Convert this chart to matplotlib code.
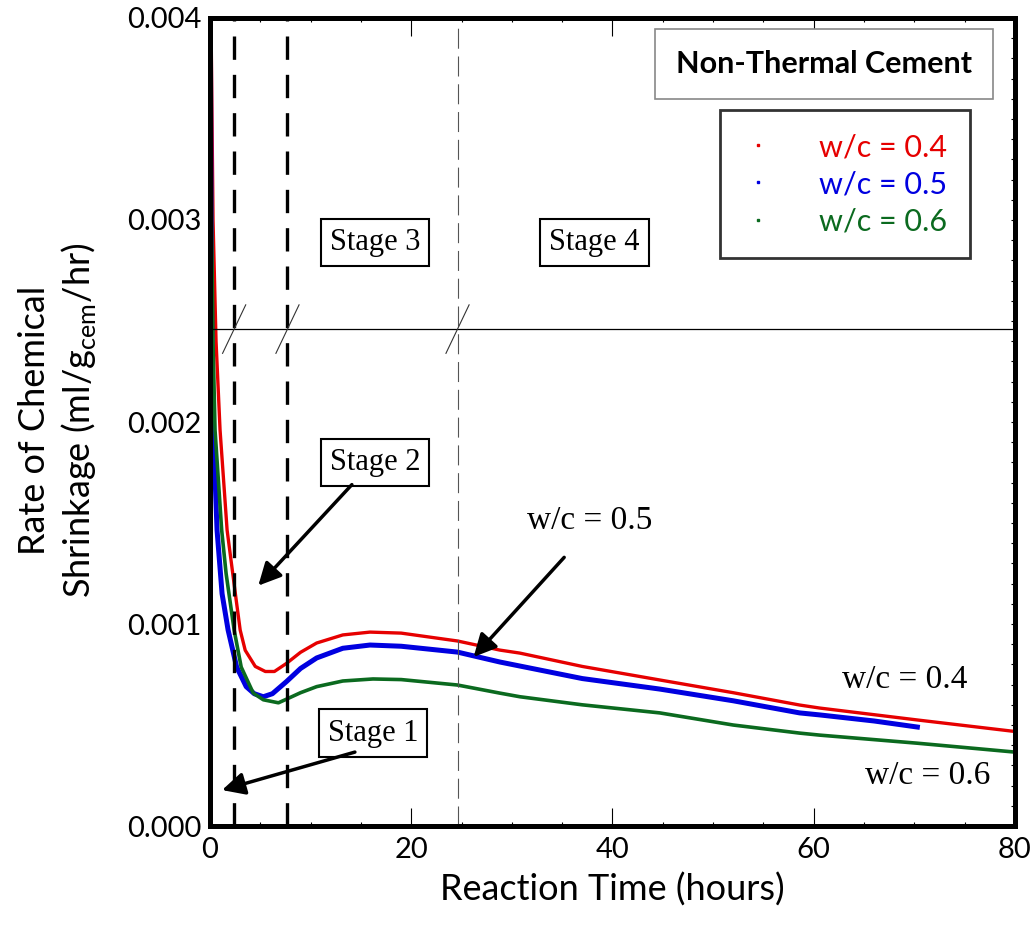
import matplotlib
matplotlib.use("Agg")
import matplotlib.pyplot as plt
from matplotlib.lines import Line2D

plt.rcParams['font.family'] = ['Lato', 'DejaVu Sans']
plt.rcParams['mathtext.fontset'] = 'custom'
plt.rcParams['mathtext.rm'] = 'Lato'

# --- data ---
t_04 = [0.1, 0.3, 0.6, 1.0, 1.7, 2.6, 3.0, 3.5, 4.5, 5.5, 6.4, 7.6, 9.0, 10.6, 13.2, 15.9,
        19.0, 24.6, 28.8, 30.8, 37.0, 44.7, 52.0, 58.6, 60.6, 70.3, 80.0]
r_04 = [0.0040, 0.0030, 0.0024, 0.00196, 0.001465, 0.00112, 0.00097, 0.00087, 0.00079, 0.000765,
        0.000765, 0.000805, 0.00086, 0.000906, 0.000946, 0.00096, 0.000955, 0.000916, 0.000871,
        0.000856, 0.00079, 0.000723, 0.00066, 0.000599, 0.000584, 0.000525, 0.000468]

t_05 = [0.05, 0.12, 0.2, 0.3, 0.7, 1.2, 1.8, 2.65, 3.6, 4.4, 5.3, 6.2, 7.6, 9.0, 10.6, 13.2,
        15.9, 19.0, 24.6, 28.8, 30.8, 37.0, 44.7, 52.0, 58.6, 60.6, 66.0, 70.3]
r_05 = [0.0038, 0.0028, 0.0023, 0.0020, 0.001465, 0.00115, 0.00097, 0.000787, 0.00069, 0.000655,
        0.00064, 0.000655, 0.000715, 0.00078, 0.000832, 0.00088, 0.000896, 0.00089, 0.000861,
        0.000812, 0.000792, 0.00073, 0.000678, 0.00062, 0.00056, 0.00055, 0.00052, 0.00049]

t_06 = [0.05, 0.15, 0.3, 0.5, 1.16, 1.6, 2.4, 3.1, 4.3, 5.3, 6.8, 7.6, 9.0, 10.6, 13.2, 16.2,
        19.0, 24.6, 28.8, 30.8, 37.0, 44.7, 52.0, 58.6, 60.6, 70.3, 80.0]
r_06 = [0.0040, 0.0030, 0.0024, 0.00196, 0.001465, 0.00125, 0.00097, 0.000787, 0.000658, 0.000625,
        0.00061, 0.000628, 0.00066, 0.00069, 0.000718, 0.000728, 0.000725, 0.000698, 0.000658,
        0.00064, 0.0006, 0.00056, 0.0005, 0.00046, 0.00045, 0.00041, 0.000366]

stage_bounds = [2.4, 7.7]     # thick dashed stage boundaries
stage4_bound = 24.6           # thin dashed boundary
break_level = 0.00246

labels = ['w/c = 0.4', 'w/c = 0.5', 'w/c = 0.6']
colors = ['#e60000', '#0000e0', '#0b6a1f']

fig = plt.figure(figsize=(10.36, 9.32), dpi=100)
ax = fig.add_axes([0.2027, 0.1137, 0.7770, 0.8670])

ax.plot(t_04, r_04, color=colors[0], lw=2.4)
ax.plot(t_05, r_05, color=colors[1], lw=3.6)
ax.plot(t_06, r_06, color=colors[2], lw=2.6)

ax.set_xlim(0, 80)
ax.set_ylim(0, 0.004)
ax.set_xticks([0, 20, 40, 60, 80])
ax.set_xticks(range(0, 81, 5), minor=True)
ax.set_yticks([0, 0.001, 0.002, 0.003, 0.004])
ax.set_yticklabels(['0.000', '0.001', '0.002', '0.003', '0.004'])
ax.set_yticks([i * 0.0001 for i in range(41)], minor=True)
ax.tick_params(axis='x', which='both', direction='in', top=True, labelsize=21, pad=8)
ax.tick_params(axis='x', which='major', length=13, width=0.8)
ax.tick_params(axis='x', which='minor', length=3, width=0.8)
ax.tick_params(axis='y', which='both', direction='in', left=False, right=True,
               length=3, width=0.8, labelsize=21, pad=6)
for s in ax.spines.values():
    s.set_linewidth(3.6)

# stage boundaries
for xb in stage_bounds:
    ax.axvline(xb, color='black', lw=2.4, dashes=(7, 4.5))
ax.axvline(stage4_bound, color='#555555', lw=0.8, dashes=(18, 7))
ax.axhline(break_level, color='black', lw=0.9)
for xb in stage_bounds + [stage4_bound]:
    ax.plot([xb - 1.15, xb + 1.15], [break_level - 0.00012, break_level + 0.00012],
            color='#333333', lw=0.8)

# stage labels
box = dict(boxstyle='square,pad=0.3', fc='white', ec='black', lw=1.5)
serif = 'Liberation Serif'
ax.text(16.4, 0.00289, 'Stage 3', family=serif, size=22, ha='center', va='center', bbox=box)
ax.text(38.2, 0.00289, 'Stage 4', family=serif, size=22, ha='center', va='center', bbox=box)
ax.text(16.4, 0.00180, 'Stage 2', family=serif, size=22, ha='center', va='center', bbox=box)
ax.text(16.2, 0.00046, 'Stage 1', family=serif, size=22, ha='center', va='center', bbox=box)

arrow = dict(arrowstyle='-|>', color='black', lw=2.5, mutation_scale=34, shrinkA=0, shrinkB=0)
ax.annotate('', xy=(4.8, 0.00119), xytext=(14.1, 0.00169), arrowprops=arrow)
ax.annotate('', xy=(1.2, 0.000178), xytext=(14.4, 0.000366), arrowprops=arrow)
ax.annotate('', xy=(26.2, 0.000837), xytext=(35.2, 0.00133), arrowprops=arrow)

ax.text(37.7, 0.00151, 'w/c = 0.5', family=serif, size=24, ha='center', va='center')
ax.text(69.0, 0.000723, 'w/c = 0.4', family=serif, size=24, ha='center', va='center')
ax.text(71.3, 0.000248, 'w/c = 0.6', family=serif, size=24, ha='center', va='center')

# title box
ax.text(0.763, 0.943, 'Non-Thermal Cement', transform=ax.transAxes, size=22, weight='bold',
        ha='center', va='center',
        bbox=dict(boxstyle='square,pad=0.68', fc='white', ec='#888888', lw=1.2))

# legend
handles = [Line2D([], [], ls='none', marker='s', ms=1.5, color=c) for c in colors]
leg = ax.legend(handles, labels, loc='upper right', bbox_to_anchor=(0.944, 0.886),
                fontsize=22, labelcolor=colors, frameon=True, fancybox=False,
                handlelength=1.0, handletextpad=1.5, borderpad=0.75, labelspacing=0.3,
                borderaxespad=0)
leg.get_frame().set_edgecolor('black')
leg.get_frame().set_linewidth(2)

ax.set_xlabel('Reaction Time (hours)', fontsize=26, labelpad=7)
fig.text(0.056, 0.549, 'Rate of Chemical\nShrinkage (ml/g$_{\\mathregular{cem}}$/hr)',
         rotation=90, ha='center', va='center', multialignment='center', fontsize=26,
         linespacing=1.25)

fig.savefig('out.png', dpi=100)
